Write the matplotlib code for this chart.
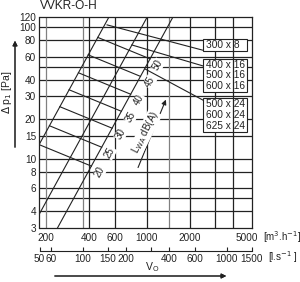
import numpy as np
import matplotlib
matplotlib.use("Agg")
import matplotlib.pyplot as plt
from matplotlib.patches import Rectangle

plt.rcParams['font.family'] = ['Liberation Sans', 'DejaVu Sans']

# ---- data ----
y_ticks = [3, 4, 6, 8, 10, 15, 20, 30, 40, 60, 80, 100, 120]
h_grid = [4, 5, 6, 8, 10, 15, 20, 30, 40, 50, 60, 80, 100]
x_ticks_m3h = [200, 400, 600, 1000, 2000, 5000]
v_grid_dark = [400, 600, 1000, 2000, 3000]
v_grid_gray = [200, 360, 1440]
v_grid_front = [4000]
x_ticks_ls = [50, 60, 100, 150, 200, 300, 400, 600, 1000, 1500]
x_labels_ls = ['50', '60', '100', '150', '200', '', '400', '600', '1000', '1500']

# characteristic lines  dp = k * V^2   (one read point each)
char_V = [181.5, 181.0, 241.0]
char_P = [13.2, 3.86, 3.0]

# sound level lines (end on right characteristic line)
db_levels = [20, 25, 30, 35, 40, 45, 50]
db_end_P = [8.8, 12.25, 17.1, 23.0, 31.0, 42.4, 57.6]
db_slope = -0.45
db_label_V = [473, 555, 663, 780, 885, 1052, 1199]
db_label_P = [7.9, 11.1, 15.4, 20.8, 27.95, 38.4, 51.6]

# leader lines from boxes
lead_start_V = [531, 790, 974]
lead_start_P = [104.5, 73.5, 48.3]
lead_end_V = [2466, 2466, 2466]
lead_end_P = [67.0, 50.9, 27.95]

box_texts = [["300 x 8"], ["400 x 16", "500 x 16", "600 x 16"],
             ["500 x 24", "600 x 24", "625 x 24"]]

INK = '#222222'

# ---- figure ----
fig = plt.figure(figsize=(3.0, 2.82), dpi=100)
L, R = 39.5 / 300, 252 / 300
B, T = (282 - 227.5) / 282, (282 - 17) / 282
ax = fig.add_axes([L, B, R - L, T - B])
ax.set_xscale('log')
ax.set_yscale('log')
ax.set_xlim(180, 5400)
ax.set_ylim(3, 120)

for y in h_grid:
    ax.axhline(y, color=INK, lw=0.9, zorder=1)
for x in v_grid_dark:
    ax.axvline(x, color=INK, lw=0.9, zorder=1)
for x in v_grid_gray:
    ax.axvline(x, color='#808080', lw=0.9, zorder=1)
for x in v_grid_front:
    ax.axvline(x, color=INK, lw=0.9, zorder=5)

ax.set_yticks(y_ticks)
ax.set_yticklabels([str(v) for v in y_ticks])
ax.set_xticks(x_ticks_m3h)
ax.set_xticklabels([str(v) for v in x_ticks_m3h])
ax.minorticks_off()
ax.tick_params(axis='both', length=0, labelsize=7.2, colors=INK)
ax.tick_params(axis='y', pad=2.5)
ax.tick_params(axis='x', pad=4)
for s in ax.spines.values():
    s.set_color(INK)
    s.set_linewidth(0.9)

# characteristic lines
Vs = np.logspace(np.log10(150), np.log10(6000), 200)
for v0, p0 in zip(char_V, char_P):
    ax.plot(Vs, p0 * (Vs / v0) ** 2, color=INK, lw=0.8, zorder=2)

# sound lines
k0 = char_P[0] / char_V[0] ** 2
k2 = char_P[2] / char_V[2] ** 2
for lev, pe, lv, lp in zip(db_levels, db_end_P, db_label_V, db_label_P):
    ve = np.sqrt(pe / k2)
    u = (np.log10(pe) - db_slope * np.log10(ve) - np.log10(k0)) / (2 - db_slope)
    vs = max(10 ** u, 180)
    ps = pe * (vs / ve) ** db_slope
    ax.plot([vs, ve], [ps, pe], color=INK, lw=0.8, zorder=2)
    ax.text(lv, lp, str(lev), rotation=61, fontsize=7, ha='center', va='center',
            color=INK, zorder=4,
            bbox=dict(boxstyle='square,pad=0.05', fc='white', ec='none'))

# leader lines
for vs, ps, ve, pe in zip(lead_start_V, lead_start_P, lead_end_V, lead_end_P):
    ax.plot([vs, ve], [ps, pe], color=INK, lw=0.8, zorder=2)

# LWA arrow
ax.annotate('', xy=(1384, 29.5), xytext=(857, 8.2),
            arrowprops=dict(arrowstyle='-|>', color=INK, lw=0.8,
                            mutation_scale=7), zorder=4)
ax.text(974, 15.8, r'L$_\mathrm{WA}$ dB(A)', rotation=63, fontsize=7,
        ha='center', va='center', color=INK, zorder=4,
        bbox=dict(boxstyle='square,pad=0.05', fc='white', ec='none'))

# boxes
box_y = [(0.840, 0.894), (0.645, 0.800), (0.455, 0.614)]
for (y0, y1), lines in zip(box_y, box_texts):
    ax.add_patch(Rectangle((0.769, y0), 0.976 - 0.769, y1 - y0,
                           transform=ax.transAxes, fc='white', ec=INK,
                           lw=0.8, zorder=3))
    n = len(lines)
    for i, t in enumerate(lines):
        yc = y1 - (y1 - y0) * (i + 0.5) / n
        ax.text(0.783, yc, t, transform=ax.transAxes, fontsize=7.3,
                ha='left', va='center', color=INK, zorder=4)

# units
fig.text(263 / 300, 1 - 237 / 282, r'[m$^3$.h$^{-1}$]', fontsize=7,
         ha='left', va='center', color=INK)

# secondary axis (l/s)
ax2 = fig.add_axes([L, (282 - 250.5) / 282, R - L, 0.0001])
ax2.set_xscale('log')
ax2.set_xlim(50, 1500)
ax2.set_yticks([])
for s in ['left', 'right', 'top']:
    ax2.spines[s].set_visible(False)
ax2.spines['bottom'].set_color(INK)
ax2.spines['bottom'].set_linewidth(0.8)
ax2.set_xticks(x_ticks_ls)
ax2.set_xticklabels(x_labels_ls)
ax2.minorticks_off()
ax2.tick_params(axis='x', direction='in', length=3, width=0.8, pad=2.5,
                labelsize=7.2, colors=INK)
ax2.set_facecolor('none')
fig.text(268 / 300, 1 - 257 / 282, r'[l.s$^{-1}$ ]', fontsize=7,
         ha='left', va='center', color=INK)

# V_O label and arrow
fig.text(152 / 300, 1 - 267 / 282, r'V$_\mathrm{O}$', fontsize=7.5,
         ha='center', va='center', color=INK)
fig.add_artist(plt.annotate('', xy=(229 / 300, 1 - 276 / 282),
                            xytext=(52 / 300, 1 - 276 / 282),
                            xycoords='figure fraction',
                            arrowprops=dict(arrowstyle='-|>', color=INK,
                                            lw=0.8, mutation_scale=7)))

# y label and arrow
fig.text(7 / 300, 1 - 92 / 282, r'$\Delta$ p$_1$ [Pa]', rotation=90, fontsize=7.5,
         ha='center', va='center', color=INK)
fig.add_artist(plt.annotate('', xy=(15 / 300, 1 - 38 / 282),
                            xytext=(15 / 300, 1 - 150 / 282),
                            xycoords='figure fraction',
                            arrowprops=dict(arrowstyle='-|>', color=INK,
                                            lw=0.8, mutation_scale=7)))

# title
fig.text(40 / 300, 1 - 8.8 / 282, 'VVKR-O-H', fontsize=8.6, ha='left',
         va='baseline', color=INK)

fig.savefig('out.png', dpi=100)
